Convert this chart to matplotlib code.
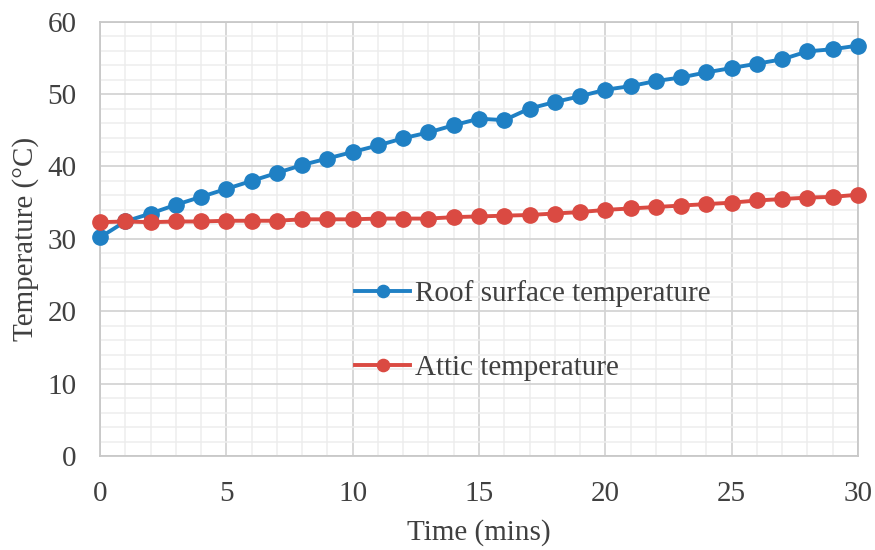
import matplotlib
matplotlib.use("Agg")
import matplotlib.pyplot as plt
from matplotlib.ticker import MultipleLocator

time_min = list(range(0, 31))
roof_temp = [30.2, 32.4, 33.5, 34.7, 35.8, 36.9, 38.0, 39.1, 40.2, 41.1,
             42.0, 42.9, 43.9, 44.7, 45.7, 46.6, 46.4, 48.0, 48.9, 49.7,
             50.6, 51.1, 51.8, 52.3, 53.0, 53.6, 54.2, 54.8, 55.9, 56.2, 56.7]
attic_temp = [32.3, 32.4, 32.3, 32.4, 32.4, 32.5, 32.5, 32.5, 32.7, 32.7,
              32.7, 32.8, 32.8, 32.8, 33.0, 33.1, 33.2, 33.3, 33.5, 33.7,
              34.0, 34.2, 34.4, 34.6, 34.8, 35.0, 35.3, 35.5, 35.7, 35.8, 36.1]
labels = ["Roof surface temperature", "Attic temperature"]

plt.rcParams['font.family'] = ['Liberation Serif', 'DejaVu Serif']
text_color = '#404040'
fs = 21

fig = plt.figure(figsize=(8.75, 5.5), dpi=100)
ax = fig.add_axes([100/875, 1-456/550, 758/875, (456-21.7)/550])

blue = '#1F80C4'
red = '#DA4A42'
ax.plot(time_min, roof_temp, color=blue, lw=2.8, marker='o', ms=11, label=labels[0],
        zorder=3, clip_on=False)
ax.plot(time_min, attic_temp, color=red, lw=2.8, marker='o', ms=11, label=labels[1],
        zorder=3, clip_on=False)

ax.set_xlim(0, 30)
ax.set_ylim(0, 60)
ax.xaxis.set_major_locator(MultipleLocator(5))
ax.xaxis.set_minor_locator(MultipleLocator(1))
ax.yaxis.set_major_locator(MultipleLocator(10))
ax.yaxis.set_minor_locator(MultipleLocator(2))
ax.grid(which='major', color='#D4D4D4', lw=1.3, zorder=0)
ax.grid(which='minor', color='#EDEDED', lw=1.1, zorder=0)
ax.set_axisbelow(True)
for s in ax.spines.values():
    s.set_color('#C8C8C8')
    s.set_linewidth(1.3)

ax.tick_params(which='both', length=0, labelsize=fs, colors=text_color)
ax.tick_params(axis='x', pad=18)
ax.tick_params(axis='y', pad=17)
ax.set_xlabel('Time (mins)', fontsize=fs, color=text_color, labelpad=9)
ax.set_ylabel('Temperature (°C)', fontsize=fs, color=text_color, labelpad=6)

leg = ax.legend(loc='center left', bbox_to_anchor=((355-100)/758, (456-330.5)/434.3),
                frameon=False, fontsize=fs, labelspacing=1.65, handlelength=1.9,
                handletextpad=0.17, borderpad=0, borderaxespad=0, markerscale=0.8)
for t in leg.get_texts():
    t.set_color(text_color)

fig.savefig('out.png', dpi=100)
